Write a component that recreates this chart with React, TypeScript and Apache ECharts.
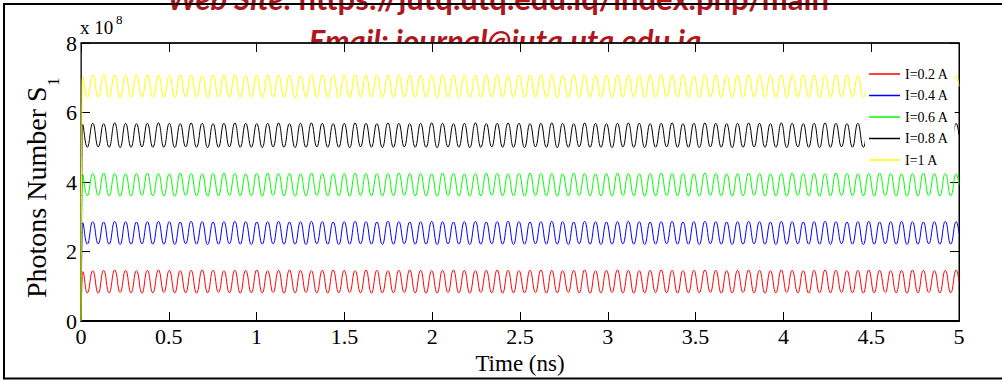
import React, { useEffect, useRef } from "react";
import * as echarts from "echarts";

const seriesNames = ["I=0.2 A", "I=0.4 A", "I=0.6 A", "I=0.8 A", "I=1 A"];
const seriesColors = ["#ff0000", "#0000ff", "#00ff00", "#000000", "#ffff00"];
const xTickLabels = ["0", "0.5", "1", "1.5", "2", "2.5", "3", "3.5", "4", "4.5", "5"];
const yTickLabels = ["0", "2", "4", "6", "8"];

// times (ns) of the initial rise, then of alternating troughs / peaks, then the end
const riseTimes = [0, 0.006, 0.01];
const extremaTimes = [
  0.036, 0.067, 0.098, 0.129, 0.16, 0.192, 0.223, 0.254, 0.285, 0.316,
  0.347, 0.378, 0.409, 0.441, 0.472, 0.503, 0.534, 0.565, 0.596, 0.627,
  0.658, 0.69, 0.721, 0.752, 0.783, 0.814, 0.845, 0.876, 0.907, 0.938,
  0.97, 1.001, 1.032, 1.063, 1.094, 1.125, 1.156, 1.187, 1.219, 1.25,
  1.281, 1.312, 1.343, 1.374, 1.405, 1.436, 1.468, 1.499, 1.53, 1.561,
  1.592, 1.623, 1.654, 1.685, 1.716, 1.748, 1.779, 1.81, 1.841, 1.872,
  1.903, 1.934, 1.965, 1.997, 2.028, 2.059, 2.09, 2.121, 2.152, 2.183,
  2.214, 2.246, 2.277, 2.308, 2.339, 2.37, 2.401, 2.432, 2.463, 2.494,
  2.526, 2.557, 2.588, 2.619, 2.65, 2.681, 2.712, 2.743, 2.775, 2.806,
  2.837, 2.868, 2.899, 2.93, 2.961, 2.992, 3.024, 3.055, 3.086, 3.117,
  3.148, 3.179, 3.21, 3.241, 3.272, 3.304, 3.335, 3.366, 3.397, 3.428,
  3.459, 3.49, 3.521, 3.553, 3.584, 3.615, 3.646, 3.677, 3.708, 3.739,
  3.77, 3.802, 3.833, 3.864, 3.895, 3.926, 3.957, 3.988, 4.019, 4.05,
  4.082, 4.113, 4.144, 4.175, 4.206, 4.237, 4.268, 4.299, 4.331, 4.362,
  4.393, 4.424, 4.455, 4.486, 4.517, 4.548, 4.58, 4.611, 4.642, 4.673,
  4.704, 4.735, 4.766, 4.797, 4.828, 4.86, 4.891, 4.922, 4.953, 4.984,
];
const endTime = 5.0;

// values in units of 1e8 photons
const redRise = [0, 1.2, 1.42];
const redPeaks = [
  1.45, 1.46, 1.47, 1.46, 1.45, 1.46, 1.47, 1.46, 1.45, 1.46,
  1.47, 1.46, 1.45, 1.46, 1.46, 1.47, 1.45, 1.46, 1.47, 1.46,
  1.45, 1.46, 1.47, 1.46, 1.45, 1.47, 1.46, 1.45, 1.46, 1.47,
  1.46, 1.45, 1.46, 1.47, 1.46, 1.45, 1.46, 1.47, 1.46, 1.45,
  1.46, 1.47, 1.46, 1.45, 1.46, 1.47, 1.45, 1.46, 1.47, 1.46,
  1.45, 1.46, 1.47, 1.46, 1.45, 1.46, 1.47, 1.46, 1.45, 1.46,
  1.47, 1.46, 1.45, 1.47, 1.46, 1.45, 1.46, 1.47, 1.46, 1.45,
  1.46, 1.47, 1.46, 1.45, 1.46, 1.47, 1.46, 1.45, 1.46, 1.47,
];
const redTroughs = [
  0.81, 0.8, 0.81, 0.82, 0.81, 0.8, 0.81, 0.82, 0.81, 0.81,
  0.8, 0.81, 0.82, 0.81, 0.8, 0.81, 0.81, 0.82, 0.8, 0.81,
  0.82, 0.81, 0.8, 0.81, 0.82, 0.81, 0.8, 0.81, 0.81, 0.82,
  0.81, 0.8, 0.81, 0.82, 0.81, 0.8, 0.82, 0.81, 0.8, 0.81,
  0.81, 0.82, 0.8, 0.81, 0.82, 0.81, 0.8, 0.81, 0.82, 0.81,
  0.8, 0.81, 0.82, 0.81, 0.8, 0.81, 0.81, 0.82, 0.8, 0.81,
  0.82, 0.81, 0.8, 0.81, 0.82, 0.81, 0.8, 0.81, 0.81, 0.82,
  0.81, 0.8, 0.81, 0.82, 0.81, 0.8, 0.81, 0.82, 0.81, 0.81,
];
const redEnd = 1.13;

const blueRise = [0, 2.5, 2.83];
const bluePeaks = [
  2.86, 2.85, 2.87, 2.86, 2.85, 2.86, 2.87, 2.86, 2.85, 2.87,
  2.86, 2.85, 2.86, 2.87, 2.86, 2.85, 2.86, 2.87, 2.85, 2.86,
  2.87, 2.86, 2.85, 2.86, 2.87, 2.86, 2.85, 2.87, 2.86, 2.85,
  2.86, 2.87, 2.86, 2.85, 2.86, 2.87, 2.85, 2.86, 2.87, 2.86,
  2.85, 2.86, 2.87, 2.86, 2.85, 2.87, 2.86, 2.85, 2.86, 2.87,
  2.86, 2.85, 2.86, 2.87, 2.85, 2.86, 2.87, 2.86, 2.85, 2.86,
  2.87, 2.86, 2.85, 2.87, 2.86, 2.85, 2.86, 2.87, 2.86, 2.85,
  2.86, 2.87, 2.85, 2.86, 2.87, 2.86, 2.85, 2.86, 2.87, 2.86,
];
const blueTroughs = [
  2.21, 2.22, 2.21, 2.2, 2.21, 2.22, 2.21, 2.21, 2.2, 2.22,
  2.21, 2.2, 2.21, 2.22, 2.21, 2.2, 2.21, 2.22, 2.21, 2.21,
  2.2, 2.22, 2.21, 2.2, 2.21, 2.22, 2.21, 2.2, 2.21, 2.22,
  2.21, 2.21, 2.2, 2.22, 2.21, 2.2, 2.21, 2.22, 2.21, 2.2,
  2.21, 2.22, 2.21, 2.21, 2.2, 2.22, 2.21, 2.2, 2.21, 2.22,
  2.21, 2.2, 2.21, 2.22, 2.21, 2.21, 2.2, 2.22, 2.21, 2.2,
  2.21, 2.22, 2.21, 2.2, 2.21, 2.22, 2.21, 2.21, 2.2, 2.22,
  2.21, 2.2, 2.21, 2.22, 2.21, 2.2, 2.21, 2.22, 2.21, 2.21,
];
const blueEnd = 2.53;

const greenRise = [0, 3.8, 4.22];
const greenPeaks = [
  4.25, 4.26, 4.25, 4.24, 4.25, 4.26, 4.25, 4.24, 4.26, 4.25,
  4.24, 4.25, 4.26, 4.25, 4.24, 4.25, 4.26, 4.25, 4.25, 4.24,
  4.26, 4.25, 4.24, 4.25, 4.26, 4.25, 4.24, 4.25, 4.26, 4.25,
  4.25, 4.24, 4.26, 4.25, 4.24, 4.25, 4.26, 4.25, 4.24, 4.25,
  4.26, 4.25, 4.25, 4.24, 4.26, 4.25, 4.24, 4.25, 4.26, 4.25,
  4.24, 4.25, 4.26, 4.25, 4.25, 4.24, 4.26, 4.25, 4.24, 4.25,
  4.26, 4.25, 4.24, 4.25, 4.26, 4.25, 4.25, 4.24, 4.26, 4.25,
  4.24, 4.25, 4.26, 4.25, 4.24, 4.25, 4.26, 4.25, 4.25, 4.24,
];
const greenTroughs = [
  3.6, 3.61, 3.6, 3.59, 3.6, 3.61, 3.6, 3.6, 3.59, 3.61,
  3.6, 3.59, 3.6, 3.61, 3.6, 3.6, 3.59, 3.61, 3.6, 3.59,
  3.6, 3.61, 3.6, 3.6, 3.59, 3.61, 3.6, 3.59, 3.6, 3.61,
  3.6, 3.6, 3.59, 3.61, 3.6, 3.59, 3.6, 3.61, 3.6, 3.6,
  3.59, 3.61, 3.6, 3.59, 3.6, 3.61, 3.6, 3.6, 3.59, 3.61,
  3.6, 3.59, 3.6, 3.61, 3.6, 3.6, 3.59, 3.61, 3.6, 3.59,
  3.6, 3.61, 3.6, 3.6, 3.59, 3.61, 3.6, 3.59, 3.6, 3.61,
  3.6, 3.6, 3.59, 3.61, 3.6, 3.59, 3.6, 3.61, 3.6, 3.6,
];
const greenEnd = 3.92;

const blackRise = [0, 5.2, 5.66];
const blackPeaks = [
  5.69, 5.68, 5.7, 5.69, 5.68, 5.69, 5.7, 5.69, 5.68, 5.7,
  5.69, 5.68, 5.69, 5.7, 5.69, 5.68, 5.69, 5.7, 5.68, 5.69,
  5.7, 5.69, 5.68, 5.69, 5.7, 5.69, 5.68, 5.7, 5.69, 5.68,
  5.69, 5.7, 5.69, 5.68, 5.69, 5.7, 5.68, 5.69, 5.7, 5.69,
  5.68, 5.69, 5.7, 5.69, 5.68, 5.7, 5.69, 5.68, 5.69, 5.7,
  5.69, 5.68, 5.69, 5.7, 5.68, 5.69, 5.7, 5.69, 5.68, 5.69,
  5.7, 5.69, 5.68, 5.7, 5.69, 5.68, 5.69, 5.7, 5.69, 5.68,
  5.69, 5.7, 5.68, 5.69, 5.7, 5.69, 5.68, 5.69, 5.7, 5.69,
];
const blackTroughs = [
  5.0, 5.01, 5.0, 4.99, 5.0, 5.01, 5.0, 5.0, 4.99, 5.01,
  5.0, 4.99, 5.0, 5.01, 5.0, 5.0, 4.99, 5.01, 5.0, 4.99,
  5.0, 5.01, 5.0, 5.0, 4.99, 5.01, 5.0, 4.99, 5.0, 5.01,
  5.0, 5.0, 4.99, 5.01, 5.0, 4.99, 5.0, 5.01, 5.0, 5.0,
  4.99, 5.01, 5.0, 4.99, 5.0, 5.01, 5.0, 5.0, 4.99, 5.01,
  5.0, 4.99, 5.0, 5.01, 5.0, 5.0, 4.99, 5.01, 5.0, 4.99,
  5.0, 5.01, 5.0, 5.0, 4.99, 5.01, 5.0, 4.99, 5.0, 5.01,
  5.0, 5.0, 4.99, 5.01, 5.0, 4.99, 5.0, 5.01, 5.0, 5.0,
];
const blackEnd = 5.35;

const yellowRise = [0, 6.6, 7.02];
const yellowPeaks = [
  7.08, 7.09, 7.08, 7.07, 7.08, 7.09, 7.08, 7.07, 7.09, 7.08,
  7.07, 7.08, 7.09, 7.08, 7.07, 7.08, 7.09, 7.08, 7.08, 7.07,
  7.09, 7.08, 7.07, 7.08, 7.09, 7.08, 7.07, 7.08, 7.09, 7.08,
  7.08, 7.07, 7.09, 7.08, 7.07, 7.08, 7.09, 7.08, 7.07, 7.08,
  7.09, 7.08, 7.08, 7.07, 7.09, 7.08, 7.07, 7.08, 7.09, 7.08,
  7.07, 7.08, 7.09, 7.08, 7.08, 7.07, 7.09, 7.08, 7.07, 7.08,
  7.09, 7.08, 7.07, 7.08, 7.09, 7.08, 7.08, 7.07, 7.09, 7.08,
  7.07, 7.08, 7.09, 7.08, 7.07, 7.08, 7.09, 7.08, 7.08, 7.07,
];
const yellowTroughs = [
  6.43, 6.44, 6.43, 6.42, 6.43, 6.44, 6.43, 6.43, 6.42, 6.44,
  6.43, 6.42, 6.43, 6.44, 6.43, 6.43, 6.42, 6.44, 6.43, 6.42,
  6.43, 6.44, 6.43, 6.43, 6.42, 6.44, 6.43, 6.42, 6.43, 6.44,
  6.43, 6.43, 6.42, 6.44, 6.43, 6.42, 6.43, 6.44, 6.43, 6.43,
  6.42, 6.44, 6.43, 6.42, 6.43, 6.44, 6.43, 6.43, 6.42, 6.44,
  6.43, 6.42, 6.43, 6.44, 6.43, 6.43, 6.42, 6.44, 6.43, 6.42,
  6.43, 6.44, 6.43, 6.43, 6.42, 6.44, 6.43, 6.42, 6.43, 6.44,
  6.43, 6.43, 6.42, 6.44, 6.43, 6.42, 6.43, 6.44, 6.43, 6.43,
];
const yellowEnd = 6.75;

function buildSeriesData(rise: number[], troughs: number[], peaks: number[], end: number) {
  const out: number[][] = [];
  riseTimes.forEach((t, i) => out.push([t, rise[i]]));
  extremaTimes.forEach((t, j) => {
    const k = Math.floor(j / 2);
    out.push([t, j % 2 === 0 ? troughs[k] : peaks[k]]);
  });
  out.push([endTime, end]);
  return out;
}

const SERIF = "Liberation Serif, Times New Roman, serif";
const RED_TEXT = "#b2161d";

export default function App() {
  const ref = useRef<HTMLDivElement>(null);

  useEffect(() => {
    if (!ref.current) return;
    const chart = echarts.init(ref.current, undefined, { renderer: "svg" });

    const allData = [
      buildSeriesData(redRise, redTroughs, redPeaks, redEnd),
      buildSeriesData(blueRise, blueTroughs, bluePeaks, blueEnd),
      buildSeriesData(greenRise, greenTroughs, greenPeaks, greenEnd),
      buildSeriesData(blackRise, blackTroughs, blackPeaks, blackEnd),
      buildSeriesData(yellowRise, yellowTroughs, yellowPeaks, yellowEnd),
    ];

    const option: any = {
      animation: false,
      backgroundColor: "#ffffff",
      textStyle: { fontFamily: SERIF, color: "#000" },
      grid: {
        left: 81,
        right: 43,
        top: 43,
        bottom: 59,
        show: true,
        backgroundColor: "#ffffff",
        borderColor: "#000",
        borderWidth: 1,
      },
      legend: {
        data: seriesNames,
        orient: "vertical",
        left: 865,
        top: 61,
        padding: [5, 6, 5, 4],
        backgroundColor: "#ffffff",
        borderWidth: 0,
        itemWidth: 31,
        itemHeight: 1.5,
        itemGap: 5.5,
        icon: "rect",
        selectedMode: false,
        textStyle: { fontFamily: SERIF, fontSize: 14, color: "#000", lineHeight: 16 },
      },
      xAxis: [
        {
          type: "value",
          position: "bottom",
          min: 0,
          max: 5,
          interval: 0.5,
          axisLine: { show: true, onZero: false, lineStyle: { color: "#000", width: 2 } },
          axisTick: { show: true, inside: true, length: 9, lineStyle: { color: "#000", width: 1 } },
          axisLabel: {
            fontFamily: SERIF,
            fontSize: 22,
            color: "#000",
            margin: 4,
            formatter: (v: number) => xTickLabels[Math.round(v / 0.5)] ?? "",
          },
          splitLine: { show: false },
          name: "Time (ns)",
          nameLocation: "middle",
          nameGap: 23,
          nameTextStyle: { fontFamily: SERIF, fontSize: 23, color: "#000" },
        },
        {
          type: "value",
          position: "top",
          min: 0,
          max: 5,
          interval: 0.5,
          axisLine: { show: true, onZero: false, lineStyle: { color: "#000", width: 1.5 } },
          axisTick: { show: true, inside: true, length: 9, lineStyle: { color: "#000", width: 1 } },
          axisLabel: { show: false },
          splitLine: { show: false },
        },
      ],
      yAxis: [
        {
          type: "value",
          position: "left",
          min: 0,
          max: 8,
          interval: 2,
          axisLine: { show: true, onZero: false, lineStyle: { color: "#333", width: 1 } },
          axisTick: { show: true, inside: true, length: 9, lineStyle: { color: "#000", width: 1 } },
          axisLabel: {
            fontFamily: SERIF,
            fontSize: 22,
            color: "#000",
            margin: 4,
            formatter: (v: number) => yTickLabels[Math.round(v / 2)] ?? "",
          },
          splitLine: { show: false },
        },
        {
          type: "value",
          position: "right",
          min: 0,
          max: 8,
          interval: 2,
          axisLine: { show: true, onZero: false, lineStyle: { color: "#000", width: 1 } },
          axisTick: { show: true, inside: true, length: 9, lineStyle: { color: "#000", width: 1 } },
          axisLabel: { show: false },
          splitLine: { show: false },
        },
      ],
      series: seriesNames.map((name, i) => ({
        name,
        type: "line",
        xAxisIndex: 0,
        yAxisIndex: 0,
        data: allData[i],
        smooth: 0.5,
        symbol: "none",
        showSymbol: false,
        color: seriesColors[i],
        lineStyle: { color: seriesColors[i], width: 1 },
        emphasis: { disabled: true },
      })),
      graphic: [
        {
          type: "text",
          x: 505,
          y: 39.5,
          z: -1,
          silent: true,
          style: {
            text: "Email: journal@iutq.utq.edu.iq",
            font: "italic bold 31px Lato, sans-serif",
            fill: RED_TEXT,
            align: "center",
            verticalAlign: "middle",
          },
        },
        {
          type: "text",
          x: 498,
          y: -2,
          z: 50,
          silent: true,
          style: {
            text: "{i|Web Site: }{u|https://jutq.utq.edu.iq/index.php/main}",
            align: "center",
            verticalAlign: "middle",
            rich: {
              i: { fontFamily: "Lato", fontSize: 31, fontWeight: "bold", fontStyle: "italic", fill: RED_TEXT, color: RED_TEXT },
              u: { fontFamily: "Lato", fontSize: 31, fontWeight: "bold", fill: RED_TEXT, color: RED_TEXT },
            },
          },
        },
        {
          type: "rect",
          z: 100,
          silent: true,
          shape: { x: 4, y: 4, width: 1010, height: 374.5 },
          style: { fill: "none", stroke: "#000", lineWidth: 2 },
        },
        {
          type: "text",
          x: 80,
          y: 27,
          silent: true,
          style: {
            text: "x 10",
            font: "19px Liberation Serif, serif",
            fill: "#000",
            align: "left",
            verticalAlign: "middle",
          },
        },
        {
          type: "text",
          x: 116,
          y: 19.6,
          silent: true,
          style: {
            text: "8",
            font: "13px Liberation Serif, serif",
            fill: "#000",
            align: "left",
            verticalAlign: "middle",
          },
        },
        {
          type: "text",
          x: 36.5,
          y: 298,
          rotation: Math.PI / 2,
          silent: true,
          style: {
            text: "Photons Number S",
            font: "28px Liberation Serif, serif",
            fill: "#000",
            align: "left",
            verticalAlign: "middle",
          },
        },
        {
          type: "text",
          x: 53,
          y: 86,
          rotation: Math.PI / 2,
          silent: true,
          style: {
            text: "1",
            font: "17px Liberation Serif, serif",
            fill: "#000",
            align: "left",
            verticalAlign: "middle",
          },
        },
      ],
    };

    chart.setOption(option);
    return () => chart.dispose();
  }, []);

  return (
    <div
      ref={ref}
      style={{ position: "fixed", left: 0, top: 0, width: 1002, height: 380, background: "#fff" }}
    />
  );
}
